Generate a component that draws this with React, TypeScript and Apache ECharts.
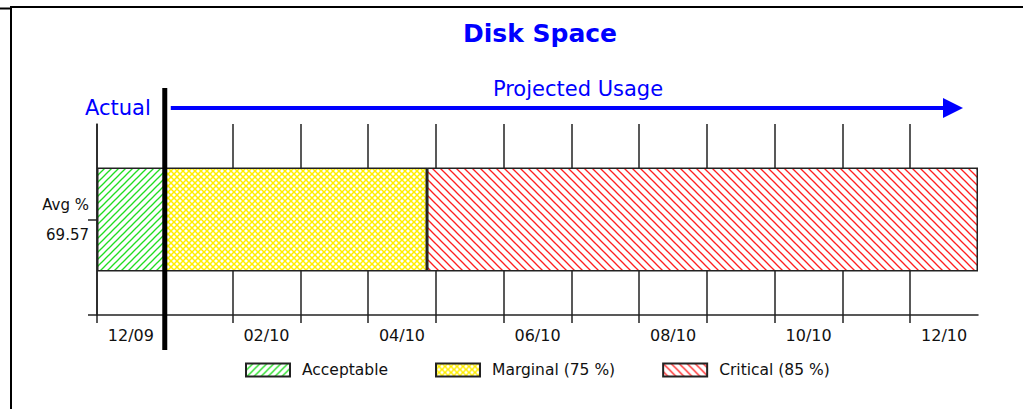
import React, { useEffect, useRef } from 'react';
import * as echarts from 'echarts';

const months = ['12/09', '01/10', '02/10', '03/10', '04/10', '05/10', '06/10', '07/10', '08/10', '09/10', '10/10', '11/10', '12/10'];
const labeledMonthIdx = [0, 2, 4, 6, 8, 10, 12];
const tickMonths = [0, 1, 2, 3, 4, 5, 6, 7, 8, 9, 10, 11, 12];
const rowLabels = ['Avg %\n69.57'];
const seriesNames = ['Acceptable', 'Marginal (75 %)', 'Critical (85 %)'];
const acceptableMonths = [1];
const marginalMonths = [3.87];
const criticalMonths = [8.13];
const actualBoundary = 1;
const titleText = 'Disk Space';
const actualText = 'Actual';
const projectedText = 'Projected Usage';

const FONT = 'DejaVu Sans';
const BLUE = '#0000ff';

function makePattern(size: number, draw: (ctx: CanvasRenderingContext2D, s: number) => void) {
  const c = document.createElement('canvas');
  c.width = size;
  c.height = size;
  const ctx = c.getContext('2d')!;
  ctx.fillStyle = '#ffffff';
  ctx.fillRect(0, 0, size, size);
  draw(ctx, size);
  return { image: c, repeat: 'repeat' as const };
}

function line(ctx: CanvasRenderingContext2D, a: number, b: number, c: number, d: number) {
  ctx.beginPath();
  ctx.moveTo(a, b);
  ctx.lineTo(c, d);
  ctx.stroke();
}

export default function App() {
  const ref = useRef<HTMLDivElement>(null);
  useEffect(() => {
    if (!ref.current) return;
    const chart = echarts.init(ref.current, null, { renderer: 'svg' });

    const green = makePattern(7, (ctx, s) => {
      ctx.strokeStyle = '#22dd22';
      ctx.lineWidth = 1.3;
      line(ctx, -1, s + 1, s + 1, -1);
      line(ctx, -1, 1, 1, -1);
      line(ctx, s - 1, s + 1, s + 1, s - 1);
    });
    const yellow = makePattern(6, (ctx, s) => {
      ctx.strokeStyle = '#ffee00';
      ctx.lineWidth = 1.5;
      line(ctx, -1, -1, s + 1, s + 1);
      line(ctx, -1, s + 1, s + 1, -1);
      line(ctx, s - 1, -1, s + 1, 1);
      line(ctx, -1, s - 1, 1, s + 1);
      line(ctx, -1, 1, 1, -1);
      line(ctx, s - 1, s + 1, s + 1, s - 1);
    });
    const red = makePattern(8, (ctx, s) => {
      ctx.strokeStyle = '#ff2020';
      ctx.lineWidth = 1.3;
      line(ctx, -1, -1, s + 1, s + 1);
      line(ctx, s - 1, -1, s + 1, 1);
      line(ctx, -1, s - 1, 1, s + 1);
    });
    const fills = [green, yellow, red];
    const values = [acceptableMonths, marginalMonths, criticalMonths];

    chart.setOption({
      animation: false,
      title: {
        text: titleText,
        left: 535,
        top: 16,
        textAlign: 'center',
        textStyle: { color: BLUE, fontSize: 25, fontWeight: 'bold', fontFamily: FONT },
      },
      legend: {
        data: seriesNames,
        left: 245,
        top: 362,
        padding: 0,
        itemWidth: 44,
        itemHeight: 13,
        itemGap: 47,
        icon: 'rect',
        textStyle: { fontSize: 15.5, fontFamily: FONT, color: '#111', padding: [0, 0, 0, 7] },
      },
      grid: { left: 97, right: 45, top: 124, bottom: 94 },
      xAxis: {
        type: 'value',
        min: 0,
        max: months.length,
        interval: 1,
        axisLine: { show: true, lineStyle: { color: '#222', width: 1.5 } },
        axisTick: { show: true, length: 8, customValues: tickMonths, lineStyle: { color: '#222', width: 1.5 } },
        splitLine: { show: true, lineStyle: { color: '#222', width: 1.5 } },
        axisLabel: {
          customValues: labeledMonthIdx.map((i) => i + 0.5),
          formatter: (v: number) => months[Math.floor(v)],
          fontSize: 16,
          fontFamily: FONT,
          color: '#111',
          margin: 12,
        },
      },
      yAxis: [
        {
          type: 'category',
          data: rowLabels,
          axisLine: { show: true, lineStyle: { color: '#222', width: 1.5 } },
          axisTick: { show: true, alignWithLabel: true, length: 9, lineStyle: { color: '#222', width: 1.5 } },
          axisLabel: { fontSize: 15, fontFamily: FONT, color: '#111', lineHeight: 30, margin: 8, align: 'right' },
          splitLine: { show: false },
        },
        {
          type: 'value',
          min: 0,
          max: 1,
          position: 'left',
          axisLine: { show: false },
          axisLabel: { show: false },
          splitLine: { show: false },
          axisTick: { show: true, length: 9, customValues: [0], lineStyle: { color: '#222', width: 1.5 } },
        },
      ],
      series: seriesNames.map((name, i) => ({
        name,
        type: 'bar',
        stack: 'usage',
        yAxisIndex: 0,
        barWidth: 104,
        data: values[i],
        itemStyle: { color: fills[i], borderColor: '#222', borderWidth: 1.5 },
        emphasis: { disabled: true },
      })),
    });

    const xb = chart.convertToPixel({ xAxisIndex: 0 }, actualBoundary) as number;
    const xEnd = chart.convertToPixel({ xAxisIndex: 0 }, months.length) as number;
    const arrowY = 108;
    const tip = xEnd - 15;
    chart.setOption({
      graphic: [
        { type: 'line', shape: { x1: 0, y1: 8.5, x2: 11, y2: 8.5 }, style: { stroke: '#000', lineWidth: 2 } },
        { type: 'line', shape: { x1: 10, y1: 7, x2: 1023, y2: 7 }, style: { stroke: '#000', lineWidth: 2 } },
        { type: 'line', shape: { x1: 11, y1: 6, x2: 11, y2: 409 }, style: { stroke: '#000', lineWidth: 2 } },
        { type: 'line', z: 10, shape: { x1: xb, y1: 88, x2: xb, y2: 350 }, style: { stroke: '#000', lineWidth: 5 } },
        { type: 'line', shape: { x1: xb + 6, y1: arrowY, x2: tip - 10, y2: arrowY }, style: { stroke: BLUE, lineWidth: 4 } },
        {
          type: 'polygon',
          shape: { points: [[tip - 20, arrowY - 10], [tip, arrowY], [tip - 20, arrowY + 10]] },
          style: { fill: BLUE },
        },
        {
          type: 'text',
          x: xb - 14,
          y: arrowY,
          style: { text: actualText, fill: BLUE, font: `21px "${FONT}"`, align: 'right', verticalAlign: 'middle' },
        },
        {
          type: 'text',
          x: 578,
          y: 89,
          style: { text: projectedText, fill: BLUE, font: `21px "${FONT}"`, align: 'center', verticalAlign: 'middle' },
        },
      ],
    });

    return () => chart.dispose();
  }, []);
  return <div ref={ref} style={{ position: 'absolute', left: 0, top: 0, width: 1023, height: 409 }} />;
}
